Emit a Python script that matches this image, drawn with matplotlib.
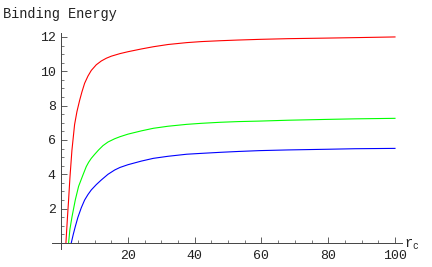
import matplotlib
matplotlib.use("Agg")
import matplotlib.pyplot as plt
from matplotlib.ticker import MultipleLocator

plt.rcParams['font.family'] = ['Liberation Mono', 'DejaVu Sans Mono']
plt.rcParams['mathtext.fontset'] = 'custom'
plt.rcParams['mathtext.rm'] = 'Liberation Mono'
plt.rcParams['mathtext.it'] = 'Liberation Mono'

# Data
red_x = [1.4, 1.8, 2.2, 2.6, 3.2, 4.0, 4.7, 5.5, 6.2, 7.0, 8.0, 9.0, 10.5, 12.0, 13.5, 15.0, 17.6, 20.0, 24.0,
         27.6, 32.0, 37.6, 42.0, 47.6, 53.0, 59.5, 68.0, 78.5, 88.0, 100.0]
red_y = [0.0, 1.3, 2.5, 3.8, 5.4, 6.9, 7.65, 8.3, 8.8, 9.3, 9.72, 10.05, 10.38, 10.6, 10.76, 10.88, 11.03, 11.14, 11.3,
         11.43, 11.56, 11.67, 11.73, 11.78, 11.82, 11.86, 11.9, 11.93, 11.96, 12.0]

green_x = [2.2, 2.6, 3.2, 4.2, 5.2, 6.5, 7.5, 8.2, 9.0, 10.0, 11.2, 12.5, 14.0, 16.0, 17.6, 20.0, 24.0, 27.6, 32.0,
           37.6, 42.0, 47.6, 53.0, 59.5, 68.0, 80.0, 88.0, 100.0]
green_y = [0.0, 0.8, 1.5, 2.5, 3.3, 3.96, 4.45, 4.7, 4.93, 5.16, 5.42, 5.67, 5.88, 6.07, 6.19, 6.34, 6.53, 6.68, 6.8,
           6.91, 6.97, 7.03, 7.07, 7.1, 7.15, 7.2, 7.23, 7.26]

blue_x = [3.0, 3.6, 4.2, 5.0, 6.0, 7.0, 8.0, 9.0, 10.5, 12.0, 14.0, 16.0, 17.6, 20.0, 24.0, 27.6, 32.0, 37.6, 42.0,
          47.6, 53.0, 59.5, 68.0, 80.0, 88.0, 100.0]
blue_y = [0.0, 0.5, 0.95, 1.5, 2.05, 2.5, 2.82, 3.09, 3.4, 3.67, 4.0, 4.25, 4.4, 4.56, 4.77, 4.93, 5.05, 5.17, 5.22,
          5.28, 5.33, 5.38, 5.42, 5.46, 5.49, 5.51]

x_ticks = [20, 40, 60, 80, 100]
y_ticks = [2, 4, 6, 8, 10, 12]

fig = plt.figure(figsize=(4.32, 2.67), dpi=100)
ax = fig.add_axes([52/432, (267-249)/267, 350/432, 216/267])

lw = 0.8
ax.plot(red_x, red_y, color=(1, 0, 0), lw=lw)
ax.plot(green_x, green_y, color=(0, 1, 0), lw=lw)
ax.plot(blue_x, blue_y, color=(0, 0, 1), lw=lw)

ax.set_xlim(-2.77, 102.1)
ax.set_ylim(-0.35, 12.23)

for s in ['top', 'right']:
    ax.spines[s].set_visible(False)
ax.spines['left'].set_position(('data', 0))
ax.spines['bottom'].set_position(('data', 0))
for s in ['left', 'bottom']:
    ax.spines[s].set_color('#444444')
    ax.spines[s].set_linewidth(0.7)

ax.set_xticks(x_ticks)
ax.set_yticks(y_ticks)
ax.set_xticklabels([str(t) for t in x_ticks])
ax.set_yticklabels([str(t) for t in y_ticks])
ax.xaxis.set_minor_locator(MultipleLocator(5))
ax.yaxis.set_minor_locator(MultipleLocator(0.5))
ax.tick_params(axis='both', which='major', direction='in', length=4, width=0.6,
               color='#444444', labelsize=9.5, labelcolor='#222222')
ax.tick_params(axis='both', which='minor', direction='in', length=2, width=0.5,
               color='#444444')
ax.tick_params(axis='x', which='major', pad=5)
ax.tick_params(axis='y', which='major', pad=4)

fig.text(3/432, 1 - 14/267, 'Binding Energy', fontsize=9.8, color='#222222',
         ha='left', va='center')
fig.text(404/432, 1 - 244/267, r'$\mathrm{r}_\mathrm{c}$', fontsize=9.8,
         color='#222222', ha='left', va='center')

fig.savefig('out.png', dpi=100)
